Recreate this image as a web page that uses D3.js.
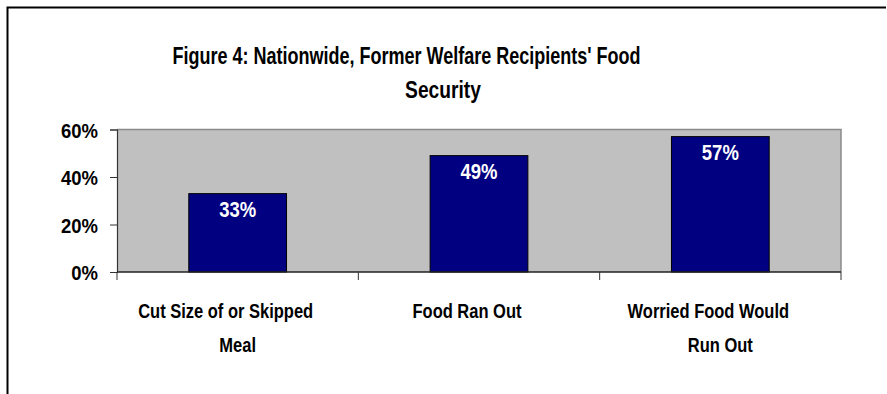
<!DOCTYPE html>
<html><head><meta charset="utf-8">
<script src="https://cdn.jsdelivr.net/npm/d3@7"></script>
<style>body{margin:0;background:#fff}svg{display:block}text{font-family:"Liberation Sans",Arial,sans-serif;font-weight:bold}</style>
</head><body><svg id="c" width="887" height="394"></svg>
<script>
const titleLines = ["Figure 4: Nationwide, Former Welfare Recipients' Food", "Security"];
const categories = ["Cut Size of or Skipped Meal", "Food Ran Out", "Worried Food Would Run Out"];
const categoryLines = [["Cut Size of or Skipped", "Meal"], ["Food Ran Out"], ["Worried Food Would", "Run Out"]];
const values = [0.33, 0.49, 0.57];
const yTicks = [0, 0.2, 0.4, 0.6];

const svg = d3.select("#c");
const L = 117, R = 841, T = 129.5, B = 272;

// horizontally condense text (the original uses a narrow rendering)
function squeeze(sel, f) {
  sel.each(function () {
    const w = this.getComputedTextLength();
    d3.select(this).attr("textLength", w * f).attr("lengthAdjust", "spacingAndGlyphs");
  });
}

// outer frame (top and left edges)
svg.append("path").attr("d", "M7.5,394V7.5H886").attr("fill", "none").attr("stroke", "#000").attr("stroke-width", 2);

const x = d3.scaleBand().domain(categories).range([L, R]).padding(0);
const y = d3.scaleLinear().domain([0, 0.6]).range([B, T]);

// plot area
svg.append("rect").attr("x", L).attr("y", T).attr("width", R - L).attr("height", B - T).attr("fill", "#c0c0c0");
svg.append("path").attr("d", `M${L},${T}H${R}V${B}`).attr("fill", "none").attr("stroke", "#8a8a8a").attr("stroke-width", 1.5);

// bars
const bw = x.bandwidth() * 0.405;
svg.selectAll("rect.bar").data(values).join("rect").attr("class", "bar")
  .attr("x", (d, i) => x(categories[i]) + x.bandwidth() / 2 - bw / 2)
  .attr("y", d => y(d)).attr("width", bw).attr("height", d => y(0) - y(d))
  .attr("fill", "#000080").attr("stroke", "#000").attr("stroke-width", 1);

svg.selectAll("text.val").data(values).join("text").attr("class", "val")
  .attr("x", (d, i) => x(categories[i]) + x.bandwidth() / 2)
  .attr("y", d => y(d) + 23.5).attr("text-anchor", "middle")
  .attr("fill", "#fff").attr("font-size", 22)
  .text(d => Math.round(d * 100) + "%")
  .call(squeeze, 0.84);

// y axis
const yAxis = svg.append("g").attr("transform", `translate(${L},0)`)
  .call(d3.axisLeft(y).tickValues(yTicks).tickFormat(d3.format(".0%")).tickSize(7).tickPadding(12));
yAxis.select(".domain").attr("stroke", "#333").attr("stroke-width", 1.2);
yAxis.selectAll(".tick line").attr("stroke", "#333");
yAxis.selectAll(".tick text").attr("font-size", 21).attr("fill", "#000").attr("dy", "0.36em")
  .attr("font-family", "'Liberation Sans',Arial,sans-serif").attr("font-weight", "bold")
  .call(squeeze, 0.88);

// x axis line and category ticks
svg.append("line").attr("x1", L).attr("x2", R).attr("y1", B).attr("y2", B).attr("stroke", "#222").attr("stroke-width", 1.5);
const bounds = categories.map(c => x(c)).concat([x(categories[categories.length - 1]) + x.bandwidth()]);
svg.selectAll("line.ctick").data(bounds).join("line").attr("class", "ctick")
  .attr("x1", d => d).attr("x2", d => d).attr("y1", B).attr("y2", B + 8).attr("stroke", "#333");

// category labels
categoryLines.forEach((lines, i) => {
  const cx = x(categories[i]) + x.bandwidth() / 2;
  lines.forEach((ln, j) => {
    svg.append("text").attr("x", cx + (j === 0 ? -12 : 0)).attr("y", 318 + j * 34)
      .attr("text-anchor", "middle").attr("font-size", 21).text(ln)
      .call(squeeze, 0.785);
  });
});

// title
svg.append("text").attr("x", 406.5).attr("y", 64).attr("text-anchor", "middle").attr("font-size", 24)
  .text(titleLines[0]).call(squeeze, 0.75);
svg.append("text").attr("x", 443).attr("y", 98).attr("text-anchor", "middle").attr("font-size", 24)
  .text(titleLines[1]).call(squeeze, 0.8);
</script></body></html>
